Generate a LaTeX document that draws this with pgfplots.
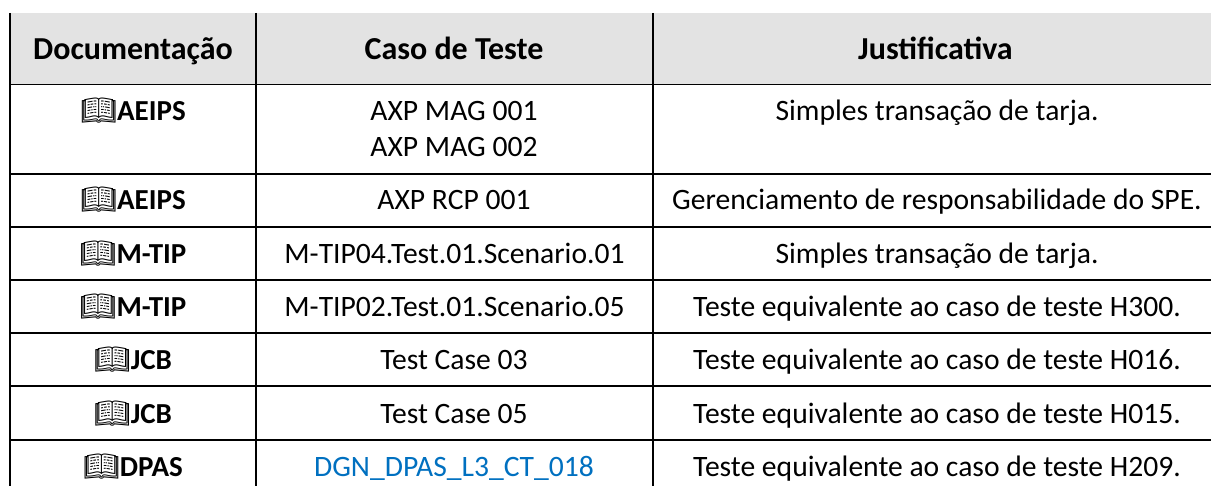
\documentclass[border=0pt]{standalone}
\usepackage{pgfplots}
\pgfplotsset{compat=1.18}
\usepackage{fontspec}
\setmainfont{Carlito}
\newfontfamily\emojifont{Noto Emoji}
\definecolor{hdr}{HTML}{E3E3E3}
\definecolor{lnk}{HTML}{0070C0}
\newcommand{\bk}{{\emojifont\symbol{"1F4D6}}}
\begin{document}
\begin{tikzpicture}
\useasboundingbox (0,0) rectangle (1211pt,486pt);
\begin{axis}[
  at={(0,0)},anchor=south west,
  scale only axis,width=1211pt,height=486pt,
  xmin=0,xmax=1211,ymin=0,ymax=486,y dir=reverse,
  hide axis,clip=true,
  point meta=explicit symbolic,
  every node near coord/.append style={anchor=base,inner sep=0pt,text=black,font=\fontsize{29.6}{34}\selectfont},
  nodes near coords={\pgfplotspointmeta},
]
\addplot[draw=none,fill=hdr,point meta=none,nodes near coords=] coordinates {(10,13)(1211,13)(1211,84)(10,84)} -- cycle;
% rules
\addplot[black,line width=1.9pt,no marks,point meta=none,nodes near coords=] coordinates {(10,13)(10,486)};
\addplot[black,line width=1.9pt,no marks,point meta=none,nodes near coords=] coordinates {(256,13)(256,486)};
\addplot[black,line width=1.9pt,no marks,point meta=none,nodes near coords=] coordinates {(653,13)(653,486)};
\addplot[black,line width=1.9pt,no marks,point meta=none,nodes near coords=] coordinates {(10,84.5)(1211,84.5)};
\addplot[black,line width=1.9pt,no marks,point meta=none,nodes near coords=] coordinates {(10,173.7)(1211,173.7)};
\addplot[black,line width=1.9pt,no marks,point meta=none,nodes near coords=] coordinates {(10,226.8)(1211,226.8)};
\addplot[black,line width=1.9pt,no marks,point meta=none,nodes near coords=] coordinates {(10,280)(1211,280)};
\addplot[black,line width=1.9pt,no marks,point meta=none,nodes near coords=] coordinates {(10,333)(1211,333)};
\addplot[black,line width=1.9pt,no marks,point meta=none,nodes near coords=] coordinates {(10,386)(1211,386)};
\addplot[black,line width=1.9pt,no marks,point meta=none,nodes near coords=] coordinates {(10,439.8)(1211,439.8)};
% header labels
\addplot[draw=none,no marks,every node near coord/.append style={font=\fontsize{32}{38}\selectfont\bfseries}] table[meta=t,col sep=comma] {
x,y,t
133,59.3,Documentação
454,59.3,Caso de Teste
935.5,59.3,Justificativa
};
% first column
\addplot[draw=none,no marks,every node near coord/.append style={font=\fontsize{29}{34}\selectfont\bfseries}] table[meta=t,col sep=comma] {
x,y,t
133,120.7,\bk AEIPS
133,210,\bk AEIPS
133,263.3,\bk M-TIP
133,316.6,\bk M-TIP
133,370,\bk JCB
133,423.2,\bk JCB
133,476,\bk DPAS
};
% regular labels
\addplot[draw=none,no marks] table[meta=t,col sep=comma] {
x,y,t
454,120.7,AXP MAG 001
454,156.7,AXP MAG 002
454,210,AXP RCP 001
454.5,263.3,M-TIP04.Test.01.Scenario.01
454.5,316.6,M-TIP02.Test.01.Scenario.05
454,370,Test Case 03
454,423.2,Test Case 05
937,120.7,Simples transação de tarja.
937,210,Gerenciamento de responsabilidade do SPE.
937,263.3,Simples transação de tarja.
937,316.6,Teste equivalente ao caso de teste H300.
937,370,Teste equivalente ao caso de teste H016.
937,423.2,Teste equivalente ao caso de teste H015.
937,476,Teste equivalente ao caso de teste H209.
};
\addplot[draw=none,no marks,every node near coord/.append style={text=lnk}] table[meta=t,col sep=comma] {
x,y,t
454,476,DGN\_DPAS\_L3\_CT\_018
};
\end{axis}
\end{tikzpicture}
\end{document}
